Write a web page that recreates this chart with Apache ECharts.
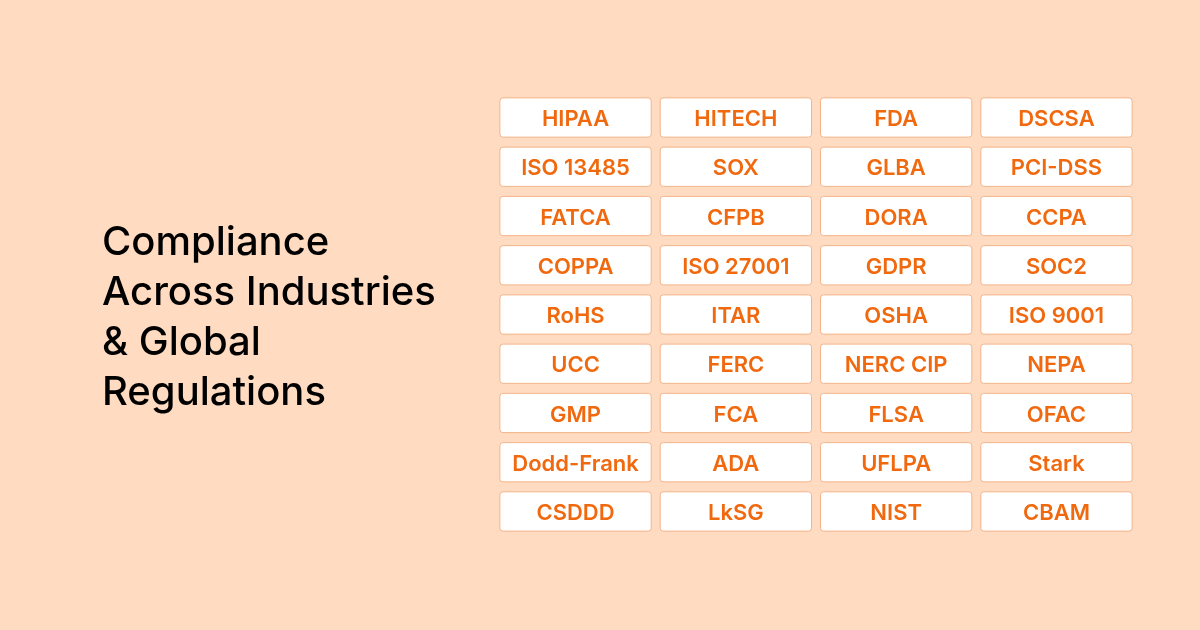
<!DOCTYPE html>
<html>
<head>
<meta charset="utf-8">
<script src="https://cdn.jsdelivr.net/npm/echarts@6/dist/echarts.min.js"></script>
<style>
  html, body { margin: 0; padding: 0; background: #ffdbc1; }
  #chart { width: 1200px; height: 630px; }
</style>
</head>
<body>
<div id="chart"></div>
<script>
// title lines
const titleLines = ['Compliance', 'Across Industries', '& Global', 'Regulations'];

// badge labels, row by row
const columns = ['c1', 'c2', 'c3', 'c4'];
const rows = ['r1', 'r2', 'r3', 'r4', 'r5', 'r6', 'r7', 'r8', 'r9'];
const labels = [
  ['HIPAA', 'HITECH', 'FDA', 'DSCSA'],
  ['ISO 13485', 'SOX', 'GLBA', 'PCI-DSS'],
  ['FATCA', 'CFPB', 'DORA', 'CCPA'],
  ['COPPA', 'ISO 27001', 'GDPR', 'SOC2'],
  ['RoHS', 'ITAR', 'OSHA', 'ISO 9001'],
  ['UCC', 'FERC', 'NERC CIP', 'NEPA'],
  ['GMP', 'FCA', 'FLSA', 'OFAC'],
  ['Dodd-Frank', 'ADA', 'UFLPA', 'Stark'],
  ['CSDDD', 'LkSG', 'NIST', 'CBAM']
];

const data = [];
labels.forEach((row, r) => row.forEach((name, c) => data.push([c, r, name])));

const chart = echarts.init(document.getElementById('chart'), null, { renderer: 'canvas' });

chart.setOption({
  backgroundColor: '#ffdbc1',
  animation: false,
  title: {
    text: titleLines.join('\n'),
    left: 97,
    top: 213,
    textStyle: {
      fontFamily: 'Inter',
      fontSize: 40,
      fontWeight: 500,
      color: '#000000',
      lineHeight: 50
    }
  },
  grid: { left: 495.4, top: 92.9, width: 641.2, height: 443.2 },
  xAxis: { type: 'category', data: columns, show: false },
  yAxis: { type: 'category', data: rows, inverse: true, show: false },
  series: [{
    type: 'custom',
    data: data,
    renderItem: function (params, api) {
      const p = api.coord([api.value(0), api.value(1)]);
      const s = api.size([1, 1]);
      const w = s[0] - 9, h = s[1] - 10;
      return {
        type: 'group',
        children: [{
          type: 'rect',
          shape: { x: p[0] - w / 2, y: p[1] - h / 2, width: w, height: h, r: 3 },
          style: { fill: '#ffffff', stroke: '#f4b48a', lineWidth: 1 }
        }, {
          type: 'text',
          style: {
            x: p[0], y: p[1] + 2,
            text: api.value(2),
            align: 'center', verticalAlign: 'middle',
            font: '600 22px Inter',
            fill: '#f0690f'
          }
        }]
      };
    }
  }]
});
</script>
</body>
</html>
